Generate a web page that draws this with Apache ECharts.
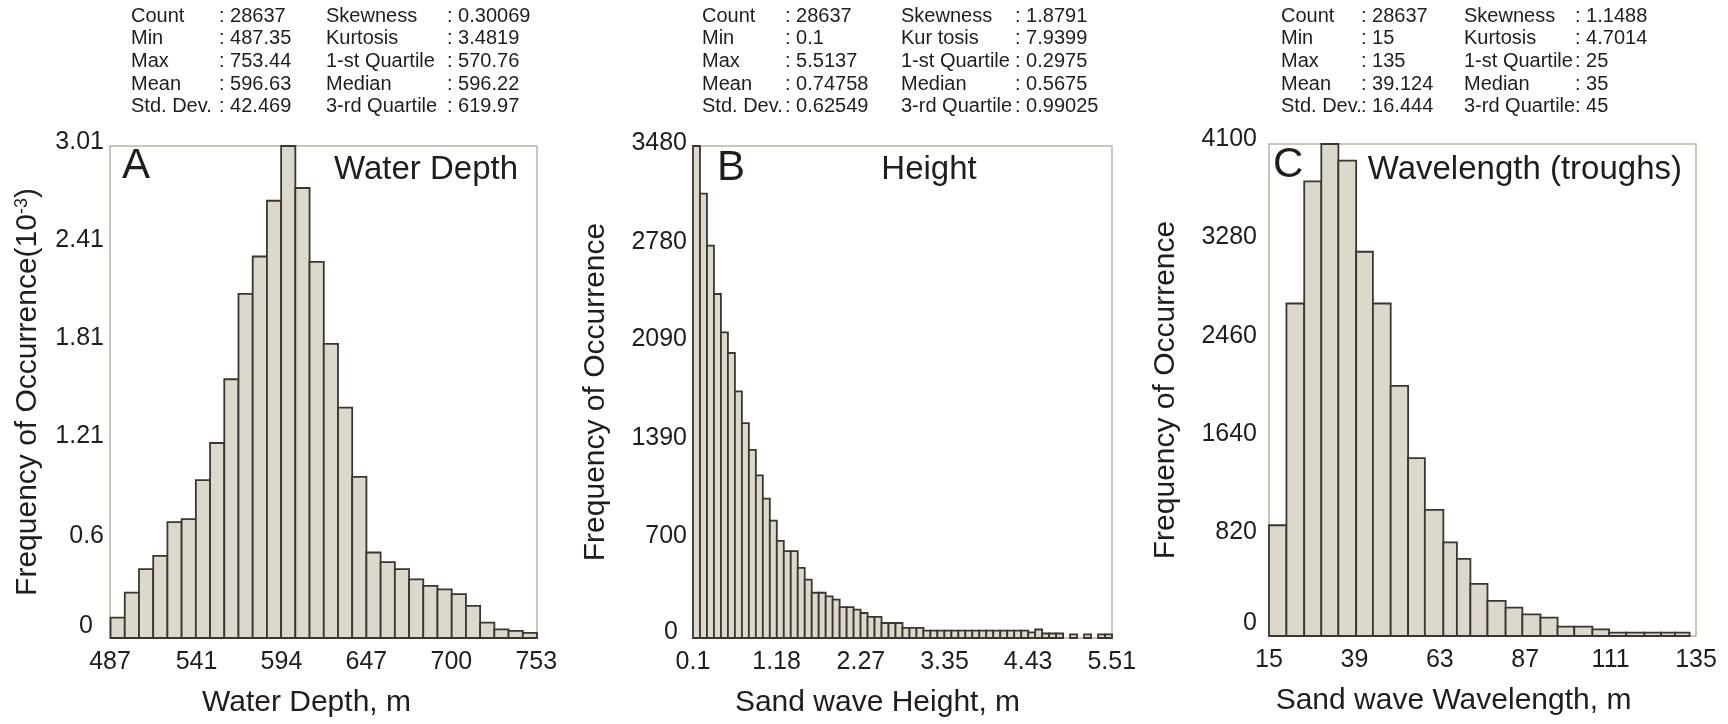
<!DOCTYPE html>
<html>
<head>
<meta charset="utf-8">
<title>Sand wave statistics</title>
<script src="https://cdn.jsdelivr.net/npm/echarts@6/dist/echarts.min.js"></script>
<style>
  html, body { margin: 0; padding: 0; background: #ffffff; }
  #chart { width: 1728px; height: 724px; }
</style>
</head>
<body>
<div id="chart"></div>
<script>
// ---- Panel A: water depth (30 equal bins starting at the minimum depth, counts in thousands)
const depthStart = 487.35;
const depthBinWidth = 8.8697;
const depthCounts = [0.125, 0.278, 0.421, 0.502, 0.709, 0.727, 0.966, 1.193, 1.583, 2.105,
                     2.334, 2.675, 3.01, 2.753, 2.301, 1.799, 1.409, 0.986, 0.523, 0.464,
                     0.421, 0.359, 0.319, 0.298, 0.268, 0.196, 0.094, 0.053, 0.043, 0.031];
const depthXTicks = [487, 541, 594, 647, 700, 753];
const depthYTicks = [0, 0.6, 1.21, 1.81, 2.41, 3.01];
const depthStats = [
  ['Count', '28637', 'Skewness', '0.30069'],
  ['Min', '487.35', 'Kurtosis', '3.4819'],
  ['Max', '753.44', '1-st Quartile', '570.76'],
  ['Mean', '596.63', 'Median', '596.22'],
  ['Std. Dev.', '42.469', '3-rd Quartile', '619.97']
];

// ---- Panel B: sand wave height (60 equal bins)
const heightStart = 0.1;
const heightBinWidth = 0.090228;
const heightCounts = [3480, 3143, 2775, 2433, 2162, 2016, 1745, 1520, 1330, 1150,
                      986, 830, 687, 615, 615, 496, 413, 320, 320, 295,
                      271, 219, 219, 200, 177, 149, 149, 106, 106, 106,
                      71, 71, 71, 52, 52, 52, 52, 52, 52, 52,
                      52, 52, 52, 52, 52, 52, 52, 52, 40, 60,
                      32, 32, 32, 0, 25, 0, 25, 0, 25, 25];
const heightXTicks = [0.1, 1.18, 2.27, 3.35, 4.43, 5.51];
const heightYTicks = [0, 700, 1390, 2090, 2780, 3480];
const heightStats = [
  ['Count', '28637', 'Skewness', '1.8791'],
  ['Min', '0.1', 'Kur tosis', '7.9399'],
  ['Max', '5.5137', '1-st Quartile', '0.2975'],
  ['Mean', '0.74758', 'Median', '0.5675'],
  ['Std. Dev.', '0.62549', '3-rd Quartile', '0.99025']
];

// ---- Panel C: sand wave wavelength between troughs (bin edges in metres)
const wavelengthEdges = [15, 19.9, 24.9, 29.7, 34.5, 39.5, 44.2, 49.2, 54.1, 58.8,
                         64.0, 67.8, 71.6, 76.4, 81.5, 86.2, 91.3, 96.1, 100.8, 105.9,
                         110.6, 115.4, 120.5, 125.2, 129.1, 133.2];
const wavelengthCounts = [923, 2771, 3789, 4100, 3961, 3202, 2771, 2085, 1482, 1051,
                          781, 642, 434, 292, 236, 181, 153, 78, 78, 56,
                          28, 28, 28, 28, 28];
const wavelengthXTicks = [15, 39, 63, 87, 111, 135];
const wavelengthYTicks = [0, 820, 1640, 2460, 3280, 4100];
const wavelengthStats = [
  ['Count', '28637', 'Skewness', '1.1488'],
  ['Min', '15', 'Kurtosis', '4.7014'],
  ['Max', '135', '1-st Quartile', '25'],
  ['Mean', '39.124', 'Median', '35'],
  ['Std. Dev.', '16.444', '3-rd Quartile', '45']
];

// ---- styling
const FONT = '"Liberation Sans", Arial, Helvetica, sans-serif';
const INK = '#221d1a';
const FRAME = '#b9b4a4';
const BAR_FILL = '#dcd9cc';
const BAR_EDGE = '#3b3631';

// [left edge, right edge, count] rows for equal-width bins
function equalBins(start, width, counts) {
  return counts.map((c, i) => [start + i * width, start + (i + 1) * width, c]);
}
function edgeBins(edges, counts) {
  return counts.map((c, i) => [edges[i], edges[i + 1], c]);
}

function renderBin(params, api) {
  const h = api.value(2);
  if (!(h > 0)) return { type: 'group', children: [] };
  const tl = api.coord([api.value(0), h]);
  const br = api.coord([api.value(1), 0]);
  return {
    type: 'rect',
    shape: { x: tl[0], y: tl[1], width: br[0] - tl[0], height: br[1] - tl[1] },
    style: { fill: BAR_FILL, stroke: BAR_EDGE, lineWidth: 1.8 }
  };
}

const plain = v => String(v);
// the zero label of each count axis sits a little left of and above its tick
const withZero = v => (v === 0 ? '{zero|0}' : String(v));

const panels = [
  { grid: { left: 110, top: 146, width: 427, height: 492 },
    xMin: 487, xMax: 753.44, xTicks: depthXTicks, yMax: 3.01, yTicks: depthYTicks,
    xName: 'Water Depth, m', xShift: 17,
    yName: 'Frequency of Occurrence(10{sup|-3})', yGap: 67, yLabelMargin: 6, yLabelLift: 4,
    zeroPad: [0, 11, 16, 0],
    data: equalBins(depthStart, depthBinWidth, depthCounts) },
  { grid: { left: 693, top: 146, width: 419, height: 492 },
    xMin: 0.1, xMax: 5.5137, xTicks: heightXTicks, yMax: 3480, yTicks: heightYTicks,
    xName: 'Sand wave Height, m', xShift: 25,
    yName: 'Frequency of Occurrence', yGap: 82, yLabelMargin: 6, yLabelLift: 3,
    zeroPad: [0, 9, 6, 0],
    data: equalBins(heightStart, heightBinWidth, heightCounts) },
  { grid: { left: 1269, top: 144, width: 427, height: 492 },
    xMin: 15, xMax: 135, xTicks: wavelengthXTicks, yMax: 4100, yTicks: wavelengthYTicks,
    xName: 'Sand wave Wavelength, m', xShift: 29,
    yName: 'Frequency of Occurrence', yGap: 88, yLabelMargin: 12, yLabelLift: 5,
    zeroPad: [0, 0, 16, 0],
    data: edgeBins(wavelengthEdges, wavelengthCounts) }
];

const option = {
  backgroundColor: '#ffffff',
  animation: false,
  grid: panels.map(p => Object.assign({ show: true, borderColor: FRAME, borderWidth: 1.5,
                                         backgroundColor: 'transparent' }, p.grid)),
  xAxis: panels.map((p, i) => ({
    type: 'value', gridIndex: i, min: p.xMin, max: p.xMax,
    name: p.xName, nameLocation: 'middle', nameGap: 50,
    nameTextStyle: { fontFamily: FONT, fontSize: 30, color: INK, padding: [0, 2 * p.xShift, 0, 0] },
    axisLine: { show: false }, axisTick: { show: false }, splitLine: { show: false },
    axisLabel: { customValues: p.xTicks, formatter: plain, fontFamily: FONT, fontSize: 25,
                 color: INK, margin: 12 }
  })),
  yAxis: panels.map((p, i) => ({
    type: 'value', gridIndex: i, min: 0, max: p.yMax,
    name: p.yName, nameLocation: 'middle', nameRotate: 90, nameGap: p.yGap,
    nameTextStyle: { fontFamily: FONT, fontSize: 30, color: INK,
                     rich: { sup: { fontFamily: FONT, fontSize: 18, color: INK, verticalAlign: 'top' } } },
    axisLine: { show: false }, axisTick: { show: false }, splitLine: { show: false },
    axisLabel: { customValues: p.yTicks, formatter: withZero, fontFamily: FONT, fontSize: 25,
                 color: INK, margin: p.yLabelMargin, padding: [0, 0, 2 * p.yLabelLift, 0],
                 rich: { zero: { fontFamily: FONT, fontSize: 25, color: INK, padding: p.zeroPad } } }
  })),
  series: panels.map((p, i) => ({
    type: 'custom', xAxisIndex: i, yAxisIndex: i, silent: true, clip: false,
    encode: { x: [0, 1], y: 2 },
    renderItem: renderBin,
    data: p.data
  })),
  graphic: []
};

// summary statistics blocks above each panel
function statsBlock(rows, x1, c1, x2, c2) {
  const out = [];
  rows.forEach((r, k) => {
    const y = 16 + k * 22.7;
    [[x1, r[0]], [c1, ': ' + r[1]], [x2, r[2]], [c2, ': ' + r[3]]].forEach(([x, t]) => {
      out.push({ type: 'text', x: x, y: y, silent: true,
                 style: { text: t, font: '20px ' + FONT, fill: INK, textAlign: 'left', textVerticalAlign: 'middle' } });
    });
  });
  return out;
}
option.graphic.push(...statsBlock(depthStats, 131, 219, 326, 447));
option.graphic.push(...statsBlock(heightStats, 702, 785, 901, 1015));
option.graphic.push(...statsBlock(wavelengthStats, 1281, 1361, 1464, 1575));

// panel letters and panel titles
function label(text, x, y, size, align) {
  return { type: 'text', x: x, y: y, silent: true, z: 10,
           style: { text: text, font: size + 'px ' + FONT, fill: INK, textAlign: align, textVerticalAlign: 'middle' } };
}
option.graphic.push(
  label('A', 122, 166, 42, 'left'),
  label('Water Depth', 518, 170, 33, 'right'),
  label('B', 717, 168, 42, 'left'),
  label('Height', 929, 170, 33, 'center'),
  label('C', 1273, 165, 42, 'left'),
  label('Wavelength (troughs)', 1682, 170, 33, 'right')
);

const chart = echarts.init(document.getElementById('chart'), null, { renderer: 'canvas' });
chart.setOption(option);
</script>
</body>
</html>
